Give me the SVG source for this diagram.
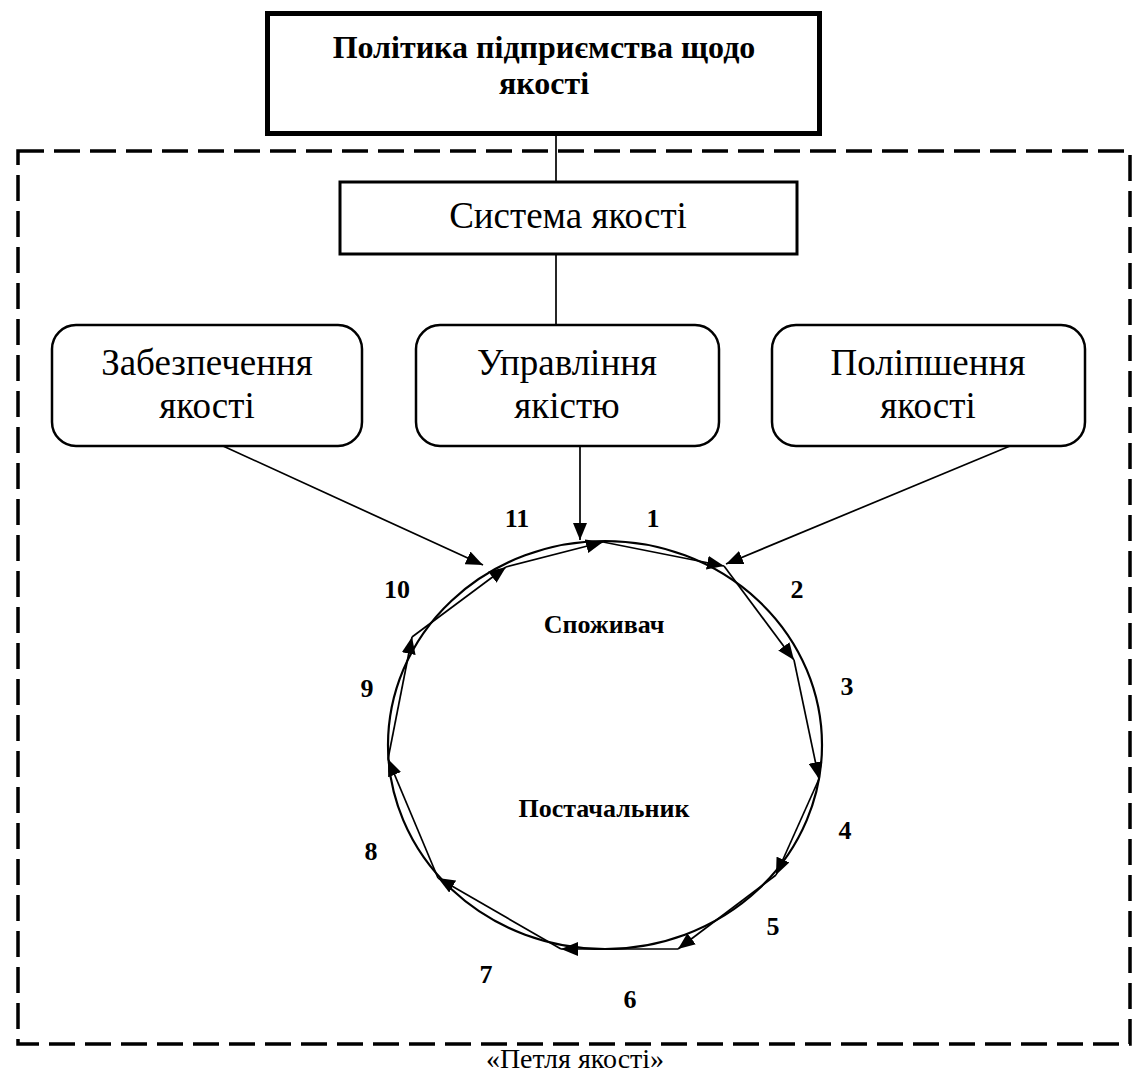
<svg xmlns="http://www.w3.org/2000/svg" width="1133" height="1075" viewBox="0 0 1133 1075">
<style>
text{font-family:"Liberation Serif","Times New Roman",serif;fill:#000}
.b{font-weight:bold}
.big{font-size:37px}
.num{font-size:26px;font-weight:bold}
.ln{stroke:#000;stroke-width:1.7;fill:none}
.box{fill:#fff;stroke:#000}
</style>
<defs>
<marker id="ah" markerWidth="17" markerHeight="14" refX="17" refY="7" orient="auto" markerUnits="userSpaceOnUse">
<path d="M0,0 L17,7 L0,14 z" fill="#000"/>
</marker>
</defs>
<rect x="18" y="151" width="1112" height="893" fill="none" stroke="#000" stroke-width="3.5" stroke-dasharray="26 10"/>
<g id="connectors">
<line class="ln" x1="556" y1="136" x2="556" y2="182"/>
<line class="ln" x1="556" y1="254" x2="556" y2="325"/>
<line class="ln" x1="223" y1="446" x2="483" y2="565" marker-end="url(#ah)"/>
<line class="ln" x1="580" y1="446" x2="580" y2="540" marker-end="url(#ah)"/>
<line class="ln" x1="1010" y1="446" x2="726" y2="564" marker-end="url(#ah)"/>
</g>
<g id="loop">
<ellipse cx="605" cy="745" rx="217" ry="204" fill="none" stroke="#000" stroke-width="2.2"/>
<g class="ln" stroke-width="2">
<line x1="506" y1="567" x2="603" y2="542" marker-end="url(#ah)"/>
<line x1="603" y1="542" x2="724" y2="566" marker-end="url(#ah)"/>
<line x1="724" y1="566" x2="794" y2="660" marker-end="url(#ah)"/>
<line x1="794" y1="660" x2="819" y2="779" marker-end="url(#ah)"/>
<line x1="819" y1="779" x2="776" y2="875" marker-end="url(#ah)"/>
<line x1="776" y1="875" x2="678" y2="949" marker-end="url(#ah)"/>
<line x1="678" y1="949" x2="561" y2="949" marker-end="url(#ah)"/>
<line x1="561" y1="949" x2="438" y2="878" marker-end="url(#ah)"/>
<line x1="438" y1="878" x2="388" y2="759" marker-end="url(#ah)"/>
<line x1="388" y1="759" x2="412" y2="637" marker-end="url(#ah)"/>
<line x1="412" y1="637" x2="506" y2="567" marker-end="url(#ah)"/>
</g>
<text class="num" x="517" y="527" text-anchor="middle">11</text>
<text class="num" x="653" y="527" text-anchor="middle">1</text>
<text class="num" x="797" y="598" text-anchor="middle">2</text>
<text class="num" x="847" y="695" text-anchor="middle">3</text>
<text class="num" x="845" y="839" text-anchor="middle">4</text>
<text class="num" x="773" y="935" text-anchor="middle">5</text>
<text class="num" x="630" y="1008" text-anchor="middle">6</text>
<text class="num" x="486" y="983" text-anchor="middle">7</text>
<text class="num" x="371" y="860" text-anchor="middle">8</text>
<text class="num" x="367" y="697" text-anchor="middle">9</text>
<text class="num" x="397" y="598" text-anchor="middle">10</text>
<text class="b" x="604" y="633" font-size="26" text-anchor="middle">Споживач</text>
<text class="b" x="604" y="817" font-size="26" text-anchor="middle">Постачальник</text>
</g>
<g id="policy">
<rect class="box" x="267.5" y="13.5" width="552" height="120" stroke-width="5"/>
<text class="b" x="544" y="58" font-size="32" text-anchor="middle">Політика підприємства щодо</text>
<text class="b" x="544" y="94" font-size="32" text-anchor="middle">якості</text>
</g>
<g id="system">
<rect class="box" x="340" y="182" width="457" height="72" stroke-width="3"/>
<text class="big" x="568" y="228" text-anchor="middle">Система якості</text>
</g>
<g id="assurance">
<rect class="box" x="52" y="325" width="310" height="121" rx="24" stroke-width="2.5"/>
<text class="big" x="207" y="375" text-anchor="middle">Забезпечення</text>
<text class="big" x="207" y="418" text-anchor="middle">якості</text>
</g>
<g id="management">
<rect class="box" x="416" y="325" width="303" height="121" rx="24" stroke-width="2.5"/>
<text class="big" x="567" y="375" text-anchor="middle">Управління</text>
<text class="big" x="567" y="418" text-anchor="middle">якістю</text>
</g>
<g id="improvement">
<rect class="box" x="772" y="325" width="313" height="121" rx="24" stroke-width="2.5"/>
<text class="big" x="928" y="375" text-anchor="middle">Поліпшення</text>
<text class="big" x="928" y="418" text-anchor="middle">якості</text>
</g>
<text x="575" y="1068" font-size="28" text-anchor="middle">«Петля якості»</text>
</svg>
